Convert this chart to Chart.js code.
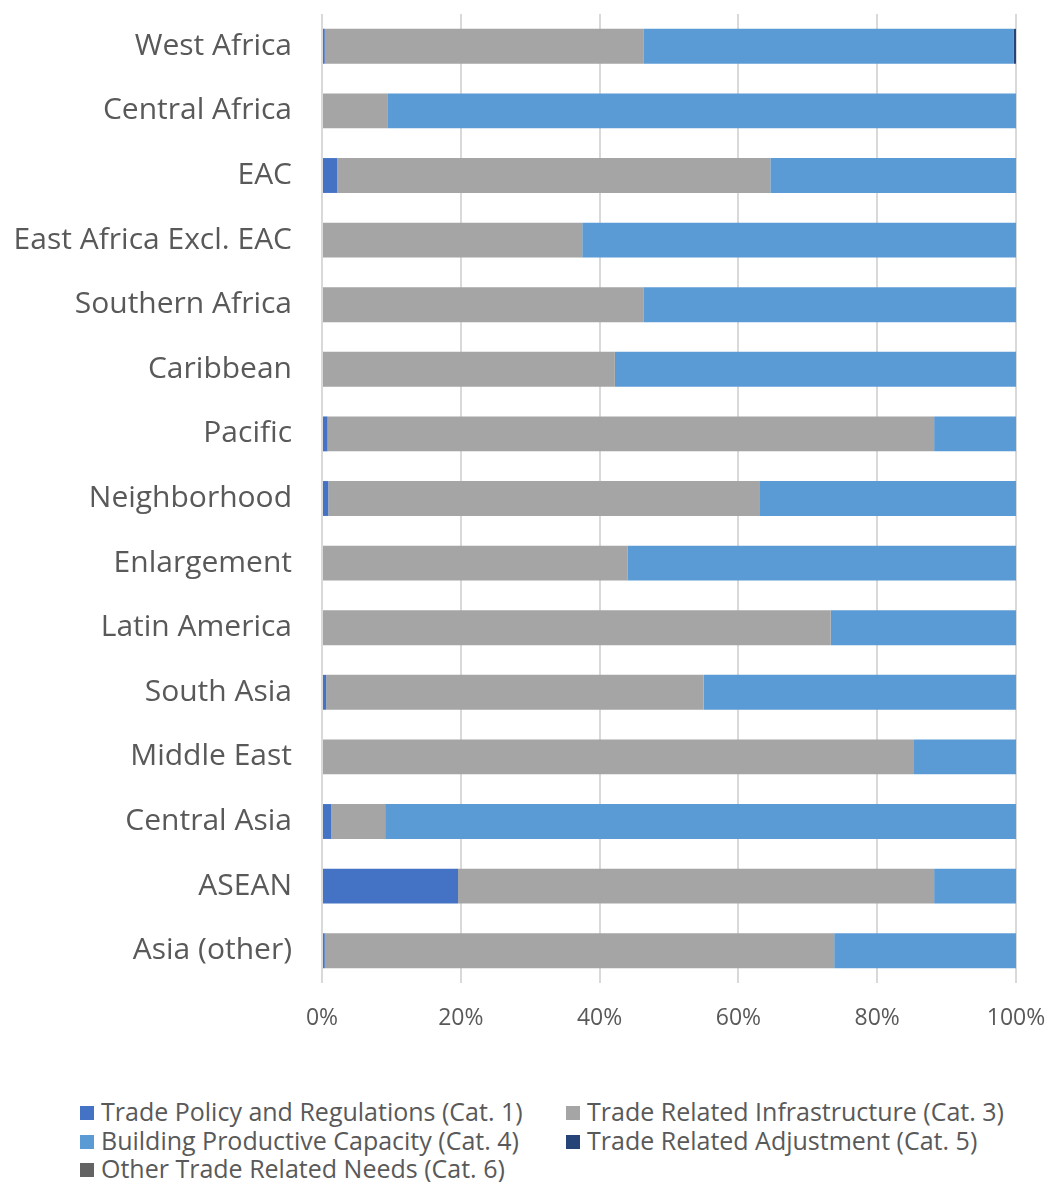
<!DOCTYPE html>
<html>
<head>
<meta charset="utf-8">
<script src="https://cdn.jsdelivr.net/npm/chart.js@4"></script>
<style>
  body { margin: 0; background: #fff; }
  #wrap { position: relative; width: 1053px; height: 1182px; }
  #legend {
    position: absolute; left: 80px; top: 1097px;
    display: grid; grid-template-columns: 486px auto;
    font-family: "Open Sans", sans-serif; font-size: 25px; color: #595959;
    line-height: 28.5px; white-space: nowrap;
  }
  #legend span.box { display: inline-block; width: 14px; height: 14px; margin-right: 7px; vertical-align: 1px; }
</style>
</head>
<body>
<div id="wrap">
  <canvas id="shareChart" width="1053" height="1050"></canvas>
  <div id="legend"></div>
</div>
<script>
// regions, top to bottom
const regions = ['West Africa', 'Central Africa', 'EAC', 'East Africa Excl. EAC', 'Southern Africa',
  'Caribbean', 'Pacific', 'Neighborhood', 'Enlargement', 'Latin America', 'South Asia',
  'Middle East', 'Central Asia', 'ASEAN', 'Asia (other)'];

// share of each category, in %
const cat1 = [0.4, 0, 2.2, 0, 0, 0.2, 0.8, 0.9, 0, 0, 0.6, 0, 1.3, 19.6, 0.4];
const cat3 = [45.9, 9.5, 62.4, 37.5, 46.3, 42.0, 87.4, 62.1, 44.0, 73.3, 54.4, 85.3, 7.8, 68.6, 73.4];
const cat4 = [53.4, 90.5, 35.4, 62.5, 53.7, 57.8, 11.8, 37.0, 56.0, 26.7, 45.0, 14.7, 90.9, 11.8, 26.2];
const cat5 = [0.3, 0, 0, 0, 0, 0, 0, 0, 0, 0, 0, 0, 0, 0, 0];
const cat6 = [0, 0, 0, 0, 0, 0, 0, 0, 0, 0, 0, 0, 0, 0, 0];

const xTicks = [0, 20, 40, 60, 80, 100];

const txt = '#595959';
const font = 'Open Sans';

const mk = (label, data, color) => ({
  label, data, backgroundColor: color, borderWidth: 0,
  barPercentage: 0.54, categoryPercentage: 1
});

const chart = new Chart(document.getElementById('shareChart'), {
  type: 'bar',
  data: {
    labels: regions,
    datasets: [
      mk('Trade Policy and Regulations (Cat. 1)', cat1, '#4472C4'),
      mk('Trade Related Infrastructure (Cat. 3)', cat3, '#A5A5A5'),
      mk('Building Productive Capacity (Cat. 4)', cat4, '#5B9BD5'),
      mk('Trade Related Adjustment (Cat. 5)', cat5, '#264478'),
      mk('Other Trade Related Needs (Cat. 6)', cat6, '#636363')
    ]
  },
  options: {
    indexAxis: 'y',
    responsive: false,
    animation: false,
    layout: { padding: { top: 14, right: 37, left: 0, bottom: 0 } },
    scales: {
      x: {
        stacked: true, min: 0, max: 100,
        afterBuildTicks: s => { s.ticks = xTicks.map(v => ({ value: v })); },
        afterFit: s => { s.height = 67; s.paddingLeft = 0; s.paddingRight = 0; },
        grid: { color: '#D9D9D9', lineWidth: 2, drawTicks: false },
        border: { display: false },
        ticks: {
          padding: 22, color: txt,
          font: { family: font, size: 23 },
          callback: v => v + '%'
        }
      },
      y: {
        stacked: true,
        afterFit: s => { s.width = 322; s.paddingTop = 0; s.paddingBottom = 0; },
        grid: { display: false, drawTicks: false },
        border: { display: false },
        ticks: {
          padding: 30, color: txt,
          font: { family: font, size: 30 }
        }
      }
    },
    plugins: {
      legend: { display: false },
      tooltip: { enabled: false }
    }
  }
});

// legend in two columns under the chart
const legend = document.getElementById('legend');
chart.data.datasets.forEach(ds => {
  const item = document.createElement('div');
  item.innerHTML = '<span class="box" style="background:' + ds.backgroundColor + '"></span>' + ds.label;
  legend.appendChild(item);
});
</script>
</body>
</html>
